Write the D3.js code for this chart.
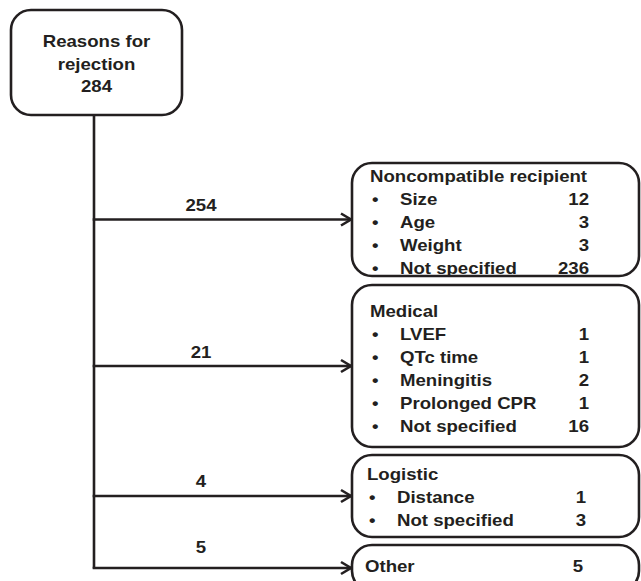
<!DOCTYPE html>
<html>
<head>
<meta charset="utf-8">
<script src="https://cdn.jsdelivr.net/npm/d3@7"></script>
<style>
  body { margin: 0; background: #fff; }
  svg { display: block; }
  text { font-family: "Liberation Sans", Arial, sans-serif; font-weight: bold; fill: #231f20; }
</style>
</head>
<body>
<svg></svg>
<script>
// flow chart data
const rootLines = ["Reasons for", "rejection"];
const rootTotal = 284;
const categories = ["Noncompatible recipient", "Medical", "Logistic", "Other"];
const categoryCounts = [254, 21, 4, 5];
const itemLabels = [
  ["Size", "Age", "Weight", "Not specified"],
  ["LVEF", "QTc time", "Meningitis", "Prolonged CPR", "Not specified"],
  ["Distance", "Not specified"],
  []
];
const itemValues = [
  [12, 3, 3, 236],
  [1, 1, 2, 1, 16],
  [1, 3],
  []
];

// layout
const width = 641, height = 581;
const ink = "#231f20";
const lw = 2.6;
const boxTop = [163, 285, 455, 545];
const boxHeight = [113, 162, 82, 46];
const titleOffset = [19, 32, 25, 27];
const xShift = [0, 0, -3, -5];
const labelLift = [9, 8, 9, 15];
const rowGap = 23;
const boxX0 = 352, boxX1 = 639;
const trunkX = 94;
const stretch = 1.135; // text in the original is a bit wide

const svg = d3.select("svg")
  .attr("width", width)
  .attr("height", height);

function addText(g, x, y, str, anchor) {
  g.append("text")
    .attr("transform", `translate(${x},${y}) scale(${stretch},1)`)
    .attr("text-anchor", anchor || "start")
    .style("font-size", "16.4px")
    .text(str);
}

// root box
svg.append("rect")
  .attr("x", 11).attr("y", 10)
  .attr("width", 171).attr("height", 105)
  .attr("rx", 20).attr("ry", 20)
  .attr("fill", "none").attr("stroke", ink).attr("stroke-width", lw);

const rootRows = rootLines.concat([String(rootTotal)]);
const rootY = d3.scaleLinear().domain([0, 1]).range([47, 69.5]);
rootRows.forEach((s, i) => addText(svg, 96.5, rootY(i), s, "middle"));

// centre of each category box, where the arrow lands
const arrowY = categories.map((c, i) => boxTop[i] + boxHeight[i] / 2);

// trunk
svg.append("line")
  .attr("x1", trunkX).attr("x2", trunkX)
  .attr("y1", 115).attr("y2", d3.max(arrowY) + 0.5)
  .attr("stroke", ink).attr("stroke-width", lw);

// arrows
const arrows = svg.selectAll(".arrow")
  .data(categories)
  .enter()
  .append("g")
  .attr("class", "arrow");

arrows.append("line")
  .attr("x1", trunkX - lw / 2).attr("x2", boxX0 - 1)
  .attr("y1", (d, i) => arrowY[i]).attr("y2", (d, i) => arrowY[i])
  .attr("stroke", ink).attr("stroke-width", lw);

arrows.append("path")
  .attr("d", (d, i) => d3.line()([[boxX0 - 11, arrowY[i] - 6], [boxX0 - 1, arrowY[i]], [boxX0 - 11, arrowY[i] + 6]]))
  .attr("fill", "none").attr("stroke", ink).attr("stroke-width", lw)
  .attr("stroke-linejoin", "miter");

arrows.each(function (d, i) {
  addText(d3.select(this), 201, arrowY[i] - labelLift[i], String(categoryCounts[i]), "middle");
});

// category boxes
categories.forEach((cat, i) => {
  const g = svg.append("g");
  g.append("rect")
    .attr("x", boxX0).attr("y", boxTop[i])
    .attr("width", boxX1 - boxX0).attr("height", boxHeight[i])
    .attr("rx", 20).attr("ry", 20)
    .attr("fill", "#fff").attr("stroke", ink).attr("stroke-width", lw);

  const rowY = d3.scaleLinear().domain([0, 1]).range([boxTop[i] + titleOffset[i], boxTop[i] + titleOffset[i] + rowGap]);
  const sx = xShift[i];
  addText(g, 370 + sx, rowY(0), cat);
  if (itemLabels[i].length === 0) {
    addText(g, 588 + sx, rowY(0), String(categoryCounts[i]), "end");
  }
  itemLabels[i].forEach((lab, j) => {
    addText(g, 372 + sx, rowY(j + 1), "\u2022");
    addText(g, 400 + sx, rowY(j + 1), lab);
    addText(g, 589 + sx, rowY(j + 1), String(itemValues[i][j]), "end");
  });
});
</script>
</body>
</html>
